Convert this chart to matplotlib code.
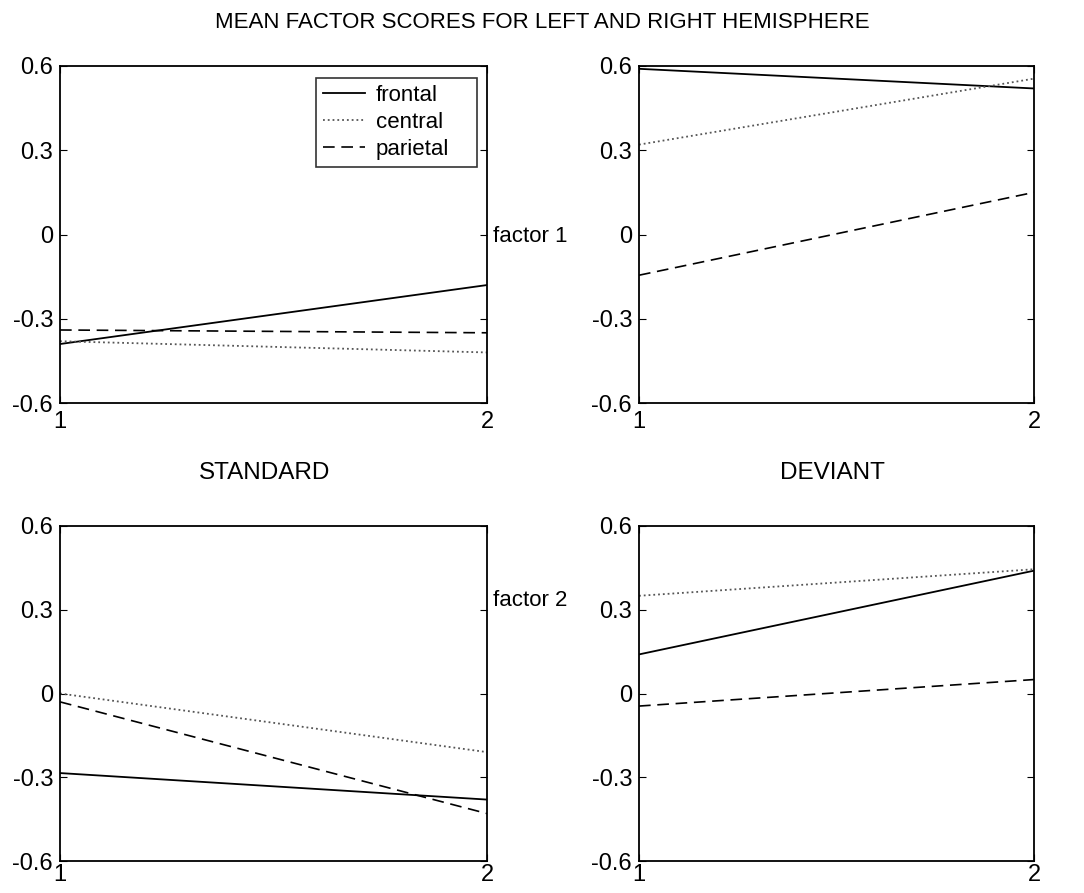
import matplotlib
matplotlib.use("Agg")
import matplotlib.pyplot as plt

plt.rcParams['font.family'] = ['Liberation Sans', 'DejaVu Sans']

# conditions on the x axis
conditions = [1, 2]
series_names = ["frontal", "central", "parietal"]

# factor 1, standard (left) and deviant (right)
f1_std_frontal = [-0.39, -0.18]
f1_std_central = [-0.38, -0.42]
f1_std_parietal = [-0.34, -0.35]
f1_dev_frontal = [0.59, 0.52]
f1_dev_central = [0.32, 0.555]
f1_dev_parietal = [-0.145, 0.15]

# factor 2
f2_std_frontal = [-0.285, -0.38]
f2_std_central = [0.0, -0.21]
f2_std_parietal = [-0.03, -0.43]
f2_dev_frontal = [0.14, 0.44]
f2_dev_central = [0.35, 0.445]
f2_dev_parietal = [-0.045, 0.05]

yticks = [-0.6, -0.3, 0, 0.3, 0.6]
ytick_labels = ["-0.6", "-0.3", "0", "0.3", "0.6"]

styles = {"frontal": dict(color="black", linestyle="-", linewidth=1.3),
          "central": dict(color="#555555", linestyle=":", linewidth=1.3),
          "parietal": dict(color="black", linestyle=(0, (7, 4)), linewidth=1.2)}

fig = plt.figure(figsize=(10.84, 8.93), dpi=100)
W, H = 1084, 893


def make_axes(x0, x1, ytop, ybot):
    return fig.add_axes([x0 / W, (H - ybot) / H, (x1 - x0) / W, (ybot - ytop) / H])


panels = [
    (make_axes(60, 487, 66, 403), [f1_std_frontal, f1_std_central, f1_std_parietal], 5.5),
    (make_axes(639, 1034, 66, 403), [f1_dev_frontal, f1_dev_central, f1_dev_parietal], 5.5),
    (make_axes(60, 487, 526, 861), [f2_std_frontal, f2_std_central, f2_std_parietal], 2.5),
    (make_axes(639, 1034, 526, 861), [f2_dev_frontal, f2_dev_central, f2_dev_parietal], 2.5),
]

for ax, data, xpad in panels:
    for name, vals in zip(series_names, data):
        ax.plot(conditions, vals, label=name, **styles[name])
    ax.set_xlim(1, 2)
    ax.set_ylim(-0.6, 0.6)
    ax.set_xticks(conditions)
    ax.set_xticklabels(["1", "2"])
    ax.set_yticks(yticks)
    ax.set_yticklabels(ytick_labels)
    ax.tick_params(direction="in", right=True, top=True, labelsize=17, length=5, width=0.8)
    ax.tick_params(axis="y", pad=5)
    ax.tick_params(axis="x", pad=xpad)
    for s in ax.spines.values():
        s.set_linewidth(1.3)

# legend box spans roughly x 316-477 px, y 78-165 px in the first panel
leg = panels[0][0].legend(loc="upper left", bbox_to_anchor=(0.5995, 0.7062, 0.377, 0.2582),
                          mode="expand", borderaxespad=0, fontsize=16, frameon=True,
                          fancybox=False, edgecolor="black", handlelength=1.9,
                          borderpad=0.3, labelspacing=0.28, handletextpad=0.5)
leg.get_frame().set_linewidth(1.2)

fig.text(0.5, 1 - 22 / H, "MEAN FACTOR SCORES FOR LEFT AND RIGHT HEMISPHERE",
         ha="center", va="center", fontsize=16)
fig.text(493 / W, 1 - 237 / H, "factor 1", ha="left", va="center", fontsize=16)
fig.text(493 / W, 1 - 600 / H, "factor 2", ha="left", va="center", fontsize=16)
fig.text(265 / W, 1 - 473 / H, "STANDARD", ha="center", va="center", fontsize=17.5)
fig.text(832 / W, 1 - 473 / H, "DEVIANT", ha="center", va="center", fontsize=17.5)

fig.savefig("out.png", dpi=100)
